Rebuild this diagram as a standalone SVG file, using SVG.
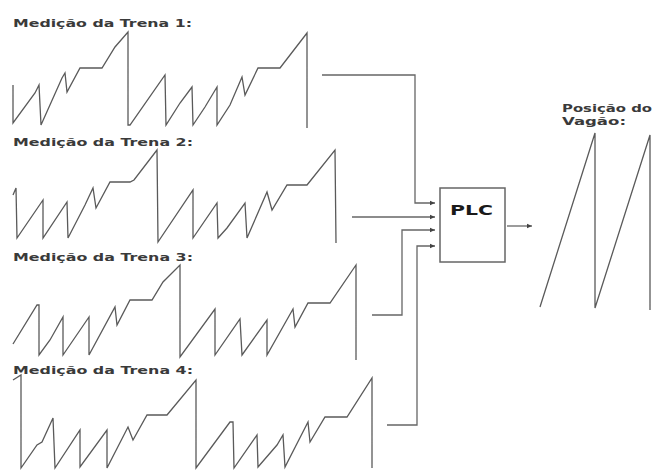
<svg xmlns="http://www.w3.org/2000/svg" width="654" height="471" viewBox="0 0 654 471">
<defs>
<style>
.w{fill:none;stroke:#5a5a5a;stroke-width:1.3;stroke-linejoin:miter}
.c{fill:none;stroke:#666;stroke-width:1.3}
.t{font-family:"DejaVu Sans",Verdana,sans-serif;font-size:11px;font-weight:bold;fill:#3a3a3a}
</style>
<marker id="ah" markerWidth="6" markerHeight="6" refX="5" refY="3" orient="auto" markerUnits="userSpaceOnUse">
<path d="M0,0.8 L5,3 L0,5.2 Z" fill="#444"/>
</marker>
</defs>
<rect width="654" height="471" fill="#fff"/>
<g id="trena1">
<text class="t" x="13" y="27" textLength="179" lengthAdjust="spacingAndGlyphs">Medição da Trena 1:</text>
<polyline class="w" points="13,85 13,123 35,93 39,85 41,125 62,78 65,73 67,92 80,68 102,68 115,47 128,32 128,125 130,125 165,75 166,125 180,103 192,87 193,125 205,107 217,87 217,125 230,105 242,77 245,95 258,68 280,68 307,33 307,128"/>
</g>
<g id="trena2">
<text class="t" x="13" y="146" textLength="180" lengthAdjust="spacingAndGlyphs">Medição da Trena 2:</text>
<polyline class="w" points="13,195 16,188 17,238 43,200 43,238 67,202 68,238 85,205 93,188 96,208 110,182 130,182 134,180 157,150 158,242 193,190 193,238 217,203 218,238 227,228 245,203 247,238 267,192 272,210 287,185 307,185 335,150 336,243"/>
</g>
<g id="trena3">
<text class="t" x="13" y="261" textLength="180" lengthAdjust="spacingAndGlyphs">Medição da Trena 3:</text>
<polyline class="w" points="13,344 37,305 39,305 39,355 50,340 63,317 63,355 89,317 89,355 115,307 117,325 130,300 152,300 163,282 180,265 180,357 215,309 215,355 240,319 242,355 267,320 267,355 293,309 295,327 308,303 330,303 356,265 356,360"/>
</g>
<g id="trena4">
<text class="t" x="13" y="374" textLength="180" lengthAdjust="spacingAndGlyphs">Medição da Trena 4:</text>
<polyline class="w" points="13,380 21,375 21,468 37,445 42,442 53,418 55,468 80,430 80,467 107,430 107,468 128,427 133,440 147,415 167,415 196,380 196,468 230,422 233,422 234,468 257,435 258,467 277,445 283,435 285,467 308,422 310,442 325,417 347,417 372,378 372,468"/>
</g>
<g id="plc">
<rect x="440" y="188" width="65" height="74" fill="#fff" stroke="#666" stroke-width="1.5"/>
<text x="450" y="215" textLength="43" lengthAdjust="spacingAndGlyphs" style="font-family:'DejaVu Sans',Verdana,sans-serif;font-size:14px;font-weight:bold;fill:#1a1a1a">PLC</text>
</g>
<g id="posicao">
<text class="t" x="562" y="112" textLength="90" lengthAdjust="spacingAndGlyphs">Posição do</text>
<text class="t" x="562" y="125" textLength="64" lengthAdjust="spacingAndGlyphs">Vagão:</text>
<polyline class="w" points="540,307 595,133 595,308 650,135 650,310"/>
</g>
<g id="connectors">
<polyline class="c" points="322,75 415,75 415,203 435,203" marker-end="url(#ah)"/>
<polyline class="c" points="352,217 435,217" marker-end="url(#ah)"/>
<polyline class="c" points="372,315 402,315 402,230 435,230" marker-end="url(#ah)"/>
<polyline class="c" points="387,425 417,425 417,246 435,246" marker-end="url(#ah)"/>
<polyline class="c" points="507,226 532,226" marker-end="url(#ah)"/>
</g>
</svg>
